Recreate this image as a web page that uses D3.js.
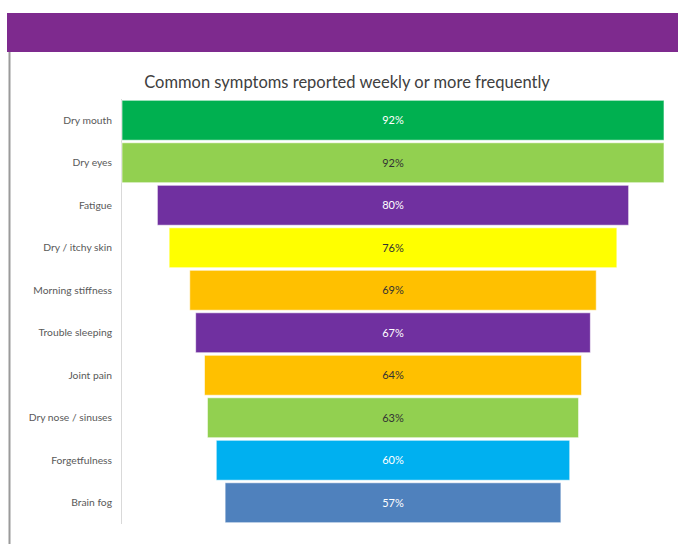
<!DOCTYPE html>
<html>
<head>
<meta charset="utf-8">
<script src="https://cdn.jsdelivr.net/npm/d3@7"></script>
<style>
  body { margin: 0; background: #fff; }
  svg { display: block; font-family: Lato, "Open Sans", sans-serif; }
</style>
</head>
<body>
<svg id="chart" width="678" height="544"></svg>
<script>
// data
let symptoms = ["Dry mouth", "Dry eyes", "Fatigue", "Dry / itchy skin", "Morning stiffness",
  "Trouble sleeping", "Joint pain", "Dry nose / sinuses", "Forgetfulness", "Brain fog"];
let percents = [92, 92, 80, 76, 69, 67, 64, 63, 60, 57];
let barColors = ["#00b050", "#92d050", "#7030a0", "#ffff00", "#ffc000",
  "#7030a0", "#ffc000", "#92d050", "#00b0f0", "#4f81bd"];
let labelColors = ["#ffffff", "#333333", "#ffffff", "#333333", "#333333",
  "#ffffff", "#333333", "#333333", "#ffffff", "#ffffff"];
let title = "Common symptoms reported weekly or more frequently";

let data = symptoms.map((s, i) => ({
  name: s, val: percents[i], color: barColors[i], lab: labelColors[i]
}));

let svg = d3.select("#chart");

// purple banner + left frame line
svg.append("rect").attr("x", 7).attr("y", 13).attr("width", 671).attr("height", 39)
  .attr("fill", "#7e2a8e");
svg.append("line").attr("x1", 9.5).attr("x2", 9.5).attr("y1", 52).attr("y2", 544)
  .attr("stroke", "#9a9a9a").attr("stroke-width", 2);

svg.append("text")
  .attr("x", 347).attr("y", 88)
  .attr("text-anchor", "middle")
  .attr("font-size", "16.5px")
  .attr("fill", "#404040")
  .text(title);

let maxV = d3.max(percents);
// funnel: bar spans x(-v/2) .. x(v/2)
let x = d3.scaleLinear().domain([-maxV / 2, maxV / 2]).range([122, 664]);
let y = d3.scaleBand().domain(symptoms).range([99, 524]).paddingInner(0.06).paddingOuter(0.03);

// category axis line
svg.append("line").attr("x1", 121.5).attr("x2", 121.5).attr("y1", 99).attr("y2", 524)
  .attr("stroke", "#d9d9d9").attr("stroke-width", 1);

svg.selectAll("rect.bar")
  .data(data)
  .enter()
  .append("rect")
  .attr("class", "bar")
  .attr("x", (d) => x(-d.val / 2))
  .attr("y", (d) => y(d.name))
  .attr("width", (d) => x(d.val / 2) - x(-d.val / 2))
  .attr("height", y.bandwidth())
  .attr("fill", (d) => d.color)
  .attr("stroke", "#ffffff")
  .attr("stroke-opacity", 0.6)
  .attr("stroke-width", 1);

svg.selectAll("text.val")
  .data(data)
  .enter()
  .append("text")
  .attr("class", "val")
  .attr("x", x(0))
  .attr("y", (d) => y(d.name) + y.bandwidth() / 2)
  .attr("dy", "0.35em")
  .attr("text-anchor", "middle")
  .attr("font-size", "11px")
  .attr("fill", (d) => d.lab)
  .text((d) => d.val + "%");

svg.selectAll("text.cat")
  .data(data)
  .enter()
  .append("text")
  .attr("class", "cat")
  .attr("x", 112)
  .attr("y", (d) => y(d.name) + y.bandwidth() / 2)
  .attr("dy", "0.35em")
  .attr("text-anchor", "end")
  .attr("font-size", "10.3px")
  .attr("fill", "#595959")
  .text((d) => d.name);
</script>
</body>
</html>
